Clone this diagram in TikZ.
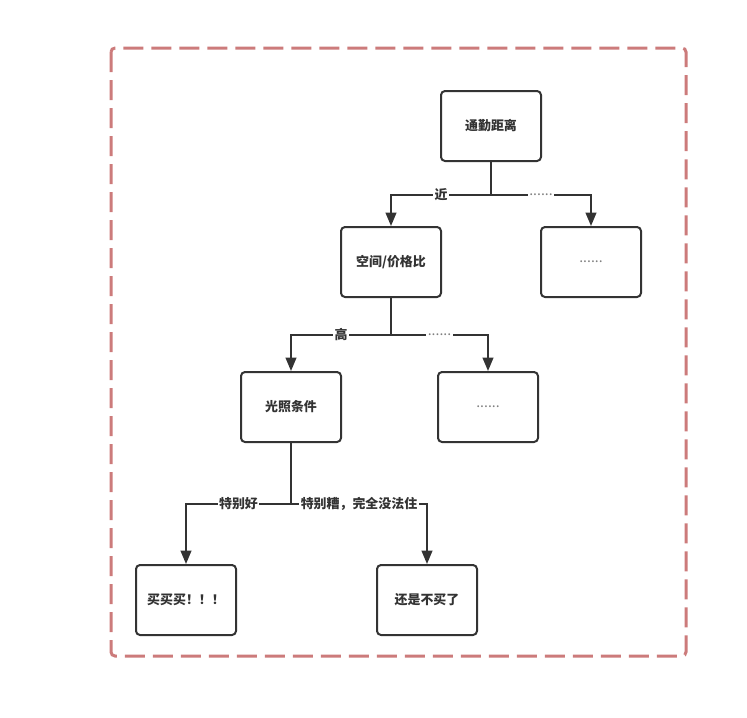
\documentclass[tikz,border=0pt]{standalone}
\usepackage{fontspec}
\setmainfont{Noto Sans CJK SC}
\usepackage{tikz}
\usetikzlibrary{positioning,arrows.meta}
\definecolor{framered}{HTML}{CC7B7B}
\definecolor{linegray}{HTML}{333333}

\begin{document}
\begin{tikzpicture}[
    x=0.75pt, y=-0.75pt,
    box/.style={rectangle, draw=linegray, line width=1.5pt, rounded corners=3pt, minimum width=75pt, minimum height=52.5pt, align=center, text=linegray, font=\fontsize{9.7}{11}\selectfont\bfseries},
    dots/.style={text=gray, font=\fontsize{10.5}{11}\selectfont},
    arrow/.style={-{Triangle[length=10pt,width=8pt]}, line width=1.5pt, draw=linegray},
    elabel/.style={fill=white, inner sep=1pt, text=linegray, font=\fontsize{9.7}{11}\selectfont\bfseries}
]
    \useasboundingbox (0,0) rectangle (747,718);

    % Outer dashed frame
    \draw[framered, line width=2.25pt, dash pattern=on 15pt off 6pt, rounded corners=3pt] (111,48) rectangle (686,656);

    % Level 1: commute
    \node[box] (dist) at (491,126) {通勤距离};

    % Level 2: space / price
    \node[box] (space) at (391,262) {空间/价格比};
    \node[box, dots] (more1) at (591,262) {......};

    % Level 3: sunlight
    \node[box] (light) at (291,407) {光照条件};
    \node[box, dots] (more2) at (488,407) {......};

    % Level 4: decision
    \node[box] (buy) at (186,600) {买买买！！！};
    \node[box] (nobuy) at (427,600) {还是不买了};

    % Arrows with labels
    \draw[arrow] (dist.south) -- ++(0,33) coordinate (split1) -| node[elabel, pos=0.25] {近} (space.north);
    \draw[arrow] (split1) -| node[elabel, dots, pos=0.25] {......} (more1.north);

    \draw[arrow] (space.south) -- ++(0,37) coordinate (split2) -| node[elabel, pos=0.25] {高} (light.north);
    \draw[arrow] (split2) -| node[elabel, dots, pos=0.25] {......} (more2.north);

    \draw[arrow] (light.south) -- ++(0,61) coordinate (split3) -| node[elabel, pos=0.25] {特别好} (buy.north);
    \draw[arrow] (split3) -| node[elabel, pos=0.25] {特别糟，完全没法住} (nobuy.north);

\end{tikzpicture}
\end{document}
